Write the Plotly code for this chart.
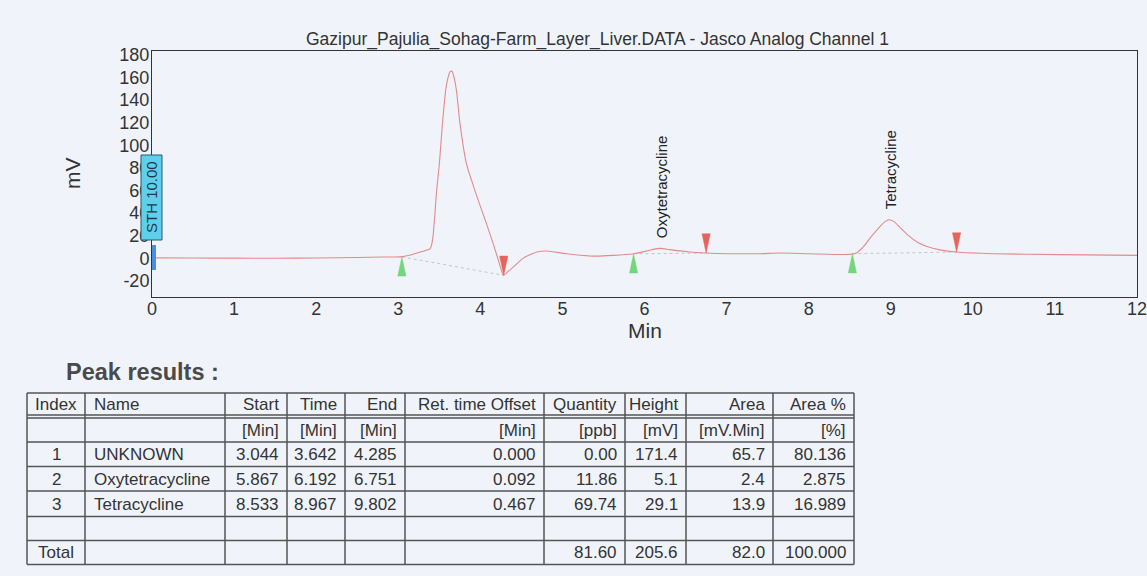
import plotly.graph_objects as go

W, H = 1147, 576

# ---------------- chromatogram data ----------------
time_min = [0.00, 0.50, 1.00, 1.50, 2.00, 2.50, 2.80, 3.02, 3.15, 3.27,
            3.39, 3.42, 3.47, 3.50, 3.54, 3.58, 3.60, 3.63, 3.655, 3.68,
            3.71, 3.75, 3.83, 3.92, 4.02, 4.12, 4.20, 4.25, 4.28, 4.34,
            4.40, 4.52, 4.69, 4.81, 5.05, 5.38, 5.62, 5.87, 6.03, 6.15,
            6.20, 6.31, 6.55, 6.74, 7.04, 7.41, 7.65, 8.02, 8.50, 8.59,
            8.67, 8.76, 8.86, 8.93, 8.98, 9.04, 9.11, 9.21, 9.32, 9.44,
            9.60, 9.80, 10.25, 11.06, 12.00]
signal_mv = [0.4, 0.3, 0.2, 0.1, 0.3, 0.8, 1.2, 1.3, 3.0, 5.6,
             8.6, 17.4, 61.7, 83.0, 120.6, 150.0, 158.0, 165.0, 165.5, 160.0,
             148.0, 120.6, 84.0, 63.0, 42.0, 21.0, 3.0, -9.0, -15.0, -11.5,
             -7.7, 0.0, 5.6, 6.5, 4.1, 2.0, 2.6, 4.1, 6.5, 8.6,
             8.8, 7.7, 5.6, 4.7, 4.1, 4.1, 4.7, 4.1, 3.5, 5.0,
             10.5, 19.0, 27.5, 32.5, 34.2, 32.5, 27.5, 20.5, 14.5, 10.5,
             7.5, 5.6, 4.1, 3.3, 2.6]

# ---------------- peak table ----------------
peak_index = [1, 2, 3]
peak_names = ["UNKNOWN", "Oxytetracycline", "Tetracycline"]
peak_start = [3.044, 5.867, 8.533]
peak_time = [3.642, 6.192, 8.967]
peak_end = [4.285, 6.751, 9.802]
ret_offset = [0.000, 0.092, 0.467]
quantity_ppb = [0.00, 11.86, 69.74]
height_mv = [171.4, 5.1, 29.1]
area_mvmin = [65.7, 2.4, 13.9]
area_pct = [80.136, 2.875, 16.989]
total_quantity, total_height, total_area, total_pct = 81.60, 205.6, 82.0, 100.000

# signal level at peak start / end / apex
start_level = [1.3, 4.0, 4.1]
end_level = [-15.0, 4.7, 5.6]
apex_level = [165.5, 8.8, 34.2]
labelled = [False, True, True]

headers = ["Index", "Name", "Start", "Time", "End", "Ret. time Offset",
           "Quantity", "Height", "Area", "Area %"]
units = ["", "", "[Min]", "[Min]", "[Min]", "[Min]", "[ppb]", "[mV]", "[mV.Min]", "[%]"]

y_ticks = list(range(-20, 181, 20))
x_ticks = list(range(0, 13))

sth_time, sth_label = 0.0, "STH 10.00"

title_text = "Gazipur_Pajulia_Sohag-Farm_Layer_Liver.DATA - Jasco Analog Channel 1"

# ---------------- style / geometry ----------------
FONT = "Liberation Sans, Arial, sans-serif"
TXT = "#333333"
BG = "#f0f4fa"
TRI_HW, TRI_H = 0.05, 17.0
PLOT_L, PLOT_R, PLOT_T, PLOT_B = 152, 1137, 51, 297
X_RANGE = [0, 12]
Y_RANGE = [-34.2, 183.5]


def px(x):
    return x / W


def py(y):
    return 1 - y / H


def t_to_px(t):
    return PLOT_L + (t - X_RANGE[0]) / (X_RANGE[1] - X_RANGE[0]) * (PLOT_R - PLOT_L)


fig = go.Figure()

# integration baselines
for s, e, sl, el in zip(peak_start, peak_end, start_level, end_level):
    fig.add_trace(go.Scatter(x=[s, e], y=[sl, el], mode="lines",
                             line=dict(color="#c4c4cc", width=1, dash="dot"),
                             hoverinfo="skip", showlegend=False))

# signal
fig.add_trace(go.Scatter(x=time_min, y=signal_mv, mode="lines",
                         line=dict(color="#e38a8a", width=1.1, shape="spline", smoothing=0.6),
                         showlegend=False))

# start (green, pointing up) and end (red, pointing down) markers
gx, gy, rx, ry = [], [], [], []
for s, sl in zip(peak_start, start_level):
    gx += [s - TRI_HW, s + TRI_HW, s, s - TRI_HW, None]
    gy += [sl - TRI_H, sl - TRI_H, sl, sl - TRI_H, None]
for e, el in zip(peak_end, end_level):
    rx += [e - TRI_HW, e + TRI_HW, e, e - TRI_HW, None]
    ry += [el + TRI_H, el + TRI_H, el, el + TRI_H, None]
fig.add_trace(go.Scatter(x=gx, y=gy, mode="lines", fill="toself",
                         fillcolor="#74d67c", line=dict(color="#74d67c", width=0.5),
                         hoverinfo="skip", showlegend=False))
fig.add_trace(go.Scatter(x=rx, y=ry, mode="lines", fill="toself",
                         fillcolor="#e5645e", line=dict(color="#e5645e", width=0.5),
                         hoverinfo="skip", showlegend=False))

ann = []
# peak labels
for name, t, a, lab in zip(peak_names, peak_time, apex_level, labelled):
    if lab:
        ann.append(dict(x=t, y=a, xref="x", yref="y", text=name, textangle=-90,
                        showarrow=False, xanchor="center", yanchor="bottom",
                        yshift=8, xshift=2, font=dict(family=FONT, size=15, color="#222")))

# STH event marker (paper coordinates so it is not clipped by the plot area)
sth_px = t_to_px(sth_time)
shapes = [
    dict(type="rect", xref="paper", yref="paper", x0=px(sth_px - 11), x1=px(sth_px + 10),
         y0=py(240), y1=py(155), fillcolor="#5fd0ec", line=dict(color="#2a5a6a", width=1),
         layer="above"),
    dict(type="rect", xref="paper", yref="paper", x0=px(sth_px), x1=px(sth_px + 4),
         y0=py(270), y1=py(245), fillcolor="#4a8ee0", line=dict(width=0), layer="above"),
]
ann.append(dict(x=px(sth_px - 0.5), y=py(197.5), xref="paper", yref="paper", text=sth_label,
                textangle=-90, showarrow=False, xanchor="center", yanchor="middle",
                font=dict(family=FONT, size=15, color="#1f3a44")))

# title and axis titles
ann.append(dict(x=px(597), y=py(39), xref="paper", yref="paper", text=title_text,
                xanchor="center", yanchor="middle",
                showarrow=False, font=dict(family=FONT, size=17.5, color=TXT)))
ann.append(dict(x=px(72), y=py(173), xref="paper", yref="paper", text="mV",
                xanchor="center", yanchor="middle",
                textangle=-90, showarrow=False, font=dict(family=FONT, size=21, color=TXT)))
ann.append(dict(x=px(645), y=py(330), xref="paper", yref="paper", text="Min",
                xanchor="center", yanchor="middle",
                showarrow=False, font=dict(family=FONT, size=21, color=TXT)))

# ---------------- table ----------------
ann.append(dict(x=px(64), y=py(372), xref="paper", yref="paper", xanchor="left",
                yanchor="middle", text="<b>Peak results :</b>", showarrow=False,
                font=dict(family=FONT, size=23.5, color="#4a4a4a")))

col_x = [27, 85, 225, 287, 345, 405, 544, 625, 686, 773, 854]
row_lines = [393, 415, 418, 442, 466.5, 491, 516.5, 540.5, 564.5]
row_centers = [404, 430, 454.5, 479, 504, 528.5, 552.5]
LC = "#555555"
for yv in row_lines:
    shapes.append(dict(type="line", xref="paper", yref="paper", x0=px(col_x[0]), x1=px(col_x[-1]),
                       y0=py(yv), y1=py(yv), line=dict(color=LC, width=1.5)))
for xv in col_x:
    shapes.append(dict(type="line", xref="paper", yref="paper", x0=px(xv), x1=px(xv),
                       y0=py(row_lines[0]), y1=py(row_lines[-1]), line=dict(color=LC, width=1.5)))

rows = [headers, units]
for i in range(3):
    rows.append([str(peak_index[i]), peak_names[i], f"{peak_start[i]:.3f}", f"{peak_time[i]:.3f}",
                 f"{peak_end[i]:.3f}", f"{ret_offset[i]:.3f}", f"{quantity_ppb[i]:.2f}",
                 f"{height_mv[i]:.1f}", f"{area_mvmin[i]:.1f}", f"{area_pct[i]:.3f}"])
rows.append([""] * 10)
rows.append(["Total", "", "", "", "", "", f"{total_quantity:.2f}", f"{total_height:.1f}",
             f"{total_area:.1f}", f"{total_pct:.3f}"])

TFONT = dict(family=FONT, size=17, color=TXT)
for r, row in enumerate(rows):
    for c, txt in enumerate(row):
        if not txt:
            continue
        if c == 0:
            x, xa = (col_x[0] + col_x[1]) / 2, "center"
        elif c == 1:
            x, xa = col_x[1] + 7, "left"
        else:
            x, xa = col_x[c + 1] - 6, "right"
        ann.append(dict(x=px(x), y=py(row_centers[r]), xref="paper", yref="paper",
                        text=txt, showarrow=False, xanchor=xa, yanchor="middle",
                        font=TFONT))

fig.update_layout(
    width=W, height=H,
    margin=dict(l=0, r=0, t=0, b=0, autoexpand=False),
    paper_bgcolor=BG, plot_bgcolor=BG,
    showlegend=False,
    xaxis=dict(domain=[PLOT_L / W, PLOT_R / W], range=X_RANGE,
               tickvals=x_ticks, ticktext=[str(v) for v in x_ticks],
               ticklabeloverflow="allow", ticklabelstandoff=-5,
               showgrid=False, zeroline=False, showline=True, mirror=True,
               linecolor="#333", linewidth=1, ticks="",
               tickfont=dict(family=FONT, size=18, color=TXT)),
    yaxis=dict(domain=[1 - PLOT_B / H, 1 - PLOT_T / H], range=Y_RANGE,
               tickvals=y_ticks, ticktext=[str(v) for v in y_ticks],
               ticklabeloverflow="allow", ticklabelstandoff=-2,
               showgrid=False, zeroline=False, showline=True, mirror=True,
               linecolor="#333", linewidth=1, ticks="",
               tickfont=dict(family=FONT, size=18, color=TXT)),
    annotations=ann,
    shapes=shapes,
)

fig.write_html("out.html",
               post_script="document.body.style.margin='0';document.body.style.padding='0';")
